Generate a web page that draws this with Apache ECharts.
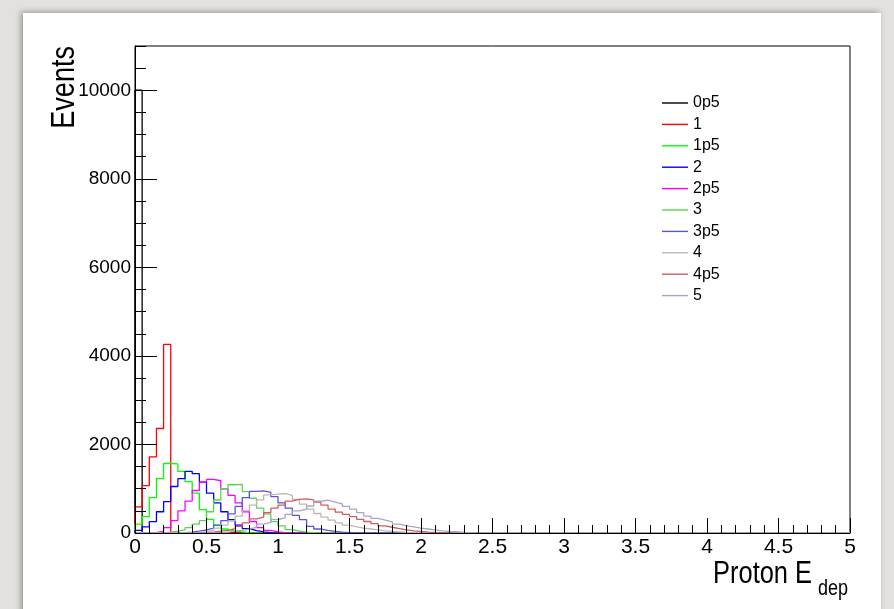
<!DOCTYPE html>
<html>
<head>
<meta charset="utf-8">
<script src="https://cdn.jsdelivr.net/npm/echarts@6/dist/echarts.min.js"></script>
<style>
  html, body { margin: 0; padding: 0; }
  body {
    width: 894px; height: 609px; position: relative; overflow: hidden;
    background: #e3e1de;
  }
  .paper {
    position: absolute; left: 23px; top: 13px; width: 858px; height: 620px;
    background: #fff;
    box-shadow: -2px -1px 6px rgba(0, 0, 0, 0.35);
  }
  #chart { position: absolute; left: 0; top: 0; width: 894px; height: 609px; }
</style>
</head>
<body>
<div class="paper"></div>
<div id="chart"></div>
<script>
// histogram binning: 100 bins of 0.05 from 0 to 5
const xMin = 0, xMax = 5, binWidth = 0.05
const nBins = 100

// legend names and line colours (ROOT colour indices)
const names = ['0p5', '1', '1p5', '2', '2p5', '3', '3p5', '4', '4p5', '5']
const colors = ['#000000', '#ff0000', '#00ff00', '#0000ff', '#ff00ff', '#59d454', '#5954d9', '#c0b6ac', '#cf5e61', '#aba6bf']

// bin contents (bins not listed are empty)
const h0p5 = [10000]
const h1 = [590, 1070, 1720, 2360, 4260]
const h1p5 = [200, 370, 800, 1230, 1570, 1560, 1390, 1160, 900, 530, 310, 170, 90, 50, 25, 10, 5]
const h2 = [60, 140, 255, 480, 710, 1050, 1230, 1390, 1340, 1150, 900, 680, 480, 300, 180, 100, 55, 25, 10, 5]
const h2p5 = [0, 0, 10, 40, 120, 280, 500, 720, 960, 1150, 1210, 1180, 1000, 850, 680, 480, 260, 120, 60, 25, 10, 5]
const h3 = [0, 0, 0, 5, 20, 40, 70, 120, 200, 280, 480, 745, 1000, 1090, 1100, 935, 785, 560, 430, 255, 160, 75, 40, 20, 10]
const h3p5 = [0, 0, 0, 0, 0, 0, 10, 20, 40, 70, 110, 180, 280, 430, 600, 800, 940, 950, 920, 820, 680, 560, 400, 300, 150, 90, 60, 35, 20, 10]
const h4 = [0, 0, 0, 0, 0, 0, 0, 5, 15, 30, 60, 110, 180, 270, 380, 500, 630, 750, 860, 880, 890, 850, 760, 650, 540, 440, 360, 290, 230, 180, 140, 110, 90, 70, 50, 35, 25, 15, 10]
const h4p5 = [0, 0, 0, 0, 0, 0, 0, 0, 5, 10, 20, 40, 60, 100, 150, 230, 320, 360, 460, 560, 630, 720, 760, 770, 750, 700, 630, 540, 470, 420, 370, 310, 260, 210, 160, 130, 100, 70, 50, 35, 20, 12, 6]
const h5 = [0, 0, 0, 0, 0, 0, 0, 0, 0, 0, 0, 0, 20, 40, 60, 90, 130, 200, 240, 300, 340, 420, 500, 540, 610, 720, 740, 700, 660, 600, 540, 460, 380, 330, 290, 250, 200, 160, 140, 110, 90, 70, 50, 35, 28, 15, 8]
const hists = [h0p5, h1, h1p5, h2, h2p5, h3, h3p5, h4, h4p5, h5]

// axis ticks
const yMax = 11000, yMajor = 2000, yMinor = 500
const xMajor = 0.5

const sans = '"Liberation Sans", Arial, sans-serif'
// titles are a narrow helvetica in the original, squeeze the normal face
const squeeze = 0.82

// turn bin contents into outline points for a step line
function outline(h) {
    let pts = [[xMin, 0]]
    for (let i = 0; i < nBins; i++) {
        pts.push([+(xMin + i * binWidth).toFixed(2), h[i] || 0])
    }
    pts.push([xMax, h[nBins - 1] || 0])
    return pts
}

let myChart = echarts.init(document.getElementById('chart'))
let option = {
    animation: false,
    grid: {
        left: 135, right: 44, top: 46, bottom: 76,
        show: true, borderColor: '#000', borderWidth: 1, backgroundColor: 'transparent'
    },
    legend: {
        orient: 'vertical',
        left: 657, top: 90,
        icon: 'rect',
        itemWidth: 26, itemHeight: 1.4,
        itemGap: 5.4,
        data: names,
        textStyle: { fontSize: 16, lineHeight: 16, color: '#000', fontFamily: sans }
    },
    xAxis: {
        type: 'value', min: xMin, max: xMax, interval: xMajor, z: 5,
        axisLine: { onZero: false, lineStyle: { color: '#000', width: 1 } },
        axisTick: { inside: true, length: 15, lineStyle: { color: '#000' } },
        minorTick: { show: true, splitNumber: 5, length: 8, lineStyle: { color: '#000' } },
        axisLabel: { fontSize: 21, color: '#000', margin: 4, fontFamily: sans },
        splitLine: { show: false }
    },
    yAxis: [
        {
            type: 'value', min: 0, max: yMax, interval: yMajor, z: 5,
            axisLine: { show: true, lineStyle: { color: '#000', width: 1 } },
            axisTick: { show: true, inside: true, length: 22, lineStyle: { color: '#000' } },
            axisLabel: {
                showMaxLabel: false, fontSize: 19, color: '#000', margin: 4, fontFamily: sans,
                formatter: function (v) { return String(v) }
            },
            splitLine: { show: false }
        },
        {
            type: 'value', min: 0, max: yMax, interval: yMinor, position: 'left', z: 5,
            axisLine: { show: false },
            axisTick: { show: true, inside: true, length: 11, lineStyle: { color: '#000' } },
            axisLabel: { show: false },
            splitLine: { show: false }
        }
    ],
    graphic: [
        {
            type: 'text', x: 65, y: 46, rotation: Math.PI / 2, scaleX: squeeze,
            style: { text: 'Events', fontSize: 33, fontFamily: sans, fill: '#000', align: 'right', verticalAlign: 'middle' }
        },
        {
            type: 'text', x: 812, y: 574, scaleX: squeeze,
            style: { text: 'Proton E', fontSize: 31, fontFamily: sans, fill: '#000', align: 'right', verticalAlign: 'middle' }
        },
        {
            type: 'text', x: 818, y: 589, scaleX: squeeze,
            style: { text: 'dep', fontSize: 22, fontFamily: sans, fill: '#000', align: 'left', verticalAlign: 'middle' }
        }
    ],
    series: names.map((name, i) => ({
        name: name,
        type: 'line',
        step: 'end',
        symbol: 'none',
        color: colors[i],
        lineStyle: { width: 1.3, color: colors[i] },
        itemStyle: { color: colors[i] },
        data: outline(hists[i])
    }))
}
myChart.setOption(option)
window.addEventListener('resize', function () {
    myChart.resize()
})
</script>
</body>
</html>
